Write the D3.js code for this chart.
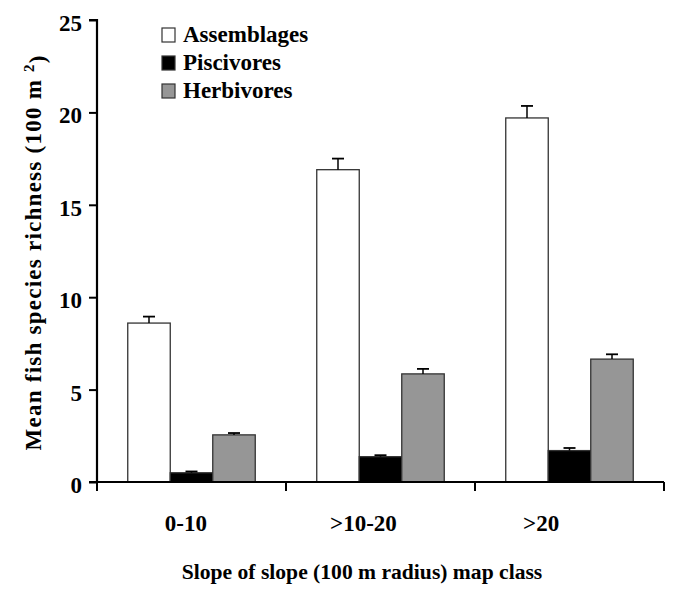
<!DOCTYPE html>
<html>
<head>
<meta charset="utf-8">
<script src="https://cdn.jsdelivr.net/npm/d3@7/dist/d3.min.js"></script>
<style>
  html, body { margin: 0; padding: 0; background: #fff; }
  svg text { font-family: "Liberation Serif", "Times New Roman", serif; font-weight: bold; fill: #000; }
</style>
</head>
<body>
<svg id="chart" width="676" height="593"></svg>
<script>
// ---- data ----
const categories = ["0-10", ">10-20", ">20"];
const seriesNames = ["Assemblages", "Piscivores", "Herbivores"];
const assemblages = [8.6, 16.9, 19.7];
const assemblagesErr = [0.35, 0.6, 0.65];
const piscivores = [0.5, 1.37, 1.7];
const piscivoresErr = [0.07, 0.08, 0.14];
const herbivores = [2.55, 5.85, 6.65];
const herbivoresErr = [0.1, 0.27, 0.26];
const yTicks = [0, 5, 10, 15, 20, 25];
const seriesColors = ["#ffffff", "#000000", "#969696"];

const values = [assemblages, piscivores, herbivores];
const errors = [assemblagesErr, piscivoresErr, herbivoresErr];

const svg = d3.select("#chart");
const margin = { left: 97, right: 12, top: 20, bottom: 111 };
const W = 676, H = 593;
const x0 = d3.scaleBand().domain(categories).range([margin.left, W - margin.right]).paddingInner(0).paddingOuter(0);
const x1 = d3.scaleBand().domain(seriesNames).range([0, x0.bandwidth()]).paddingOuter(0.7235).paddingInner(0);
const xLab = d3.scaleBand().domain(categories).range([margin.left, 630]);
const y = d3.scaleLinear().domain([0, 25]).range([H - margin.bottom, margin.top]);

// bars
const data = [];
categories.forEach((c, i) => {
  seriesNames.forEach((s, j) => {
    data.push({ c, s, j, v: values[j][i], e: errors[j][i] });
  });
});

const g = svg.append("g");
g.selectAll("rect.bar").data(data).enter().append("rect")
  .attr("class", "bar")
  .attr("x", d => x0(d.c) + x1(d.s))
  .attr("y", d => y(d.v))
  .attr("width", x1.bandwidth())
  .attr("height", d => y(0) - y(d.v))
  .attr("fill", d => seriesColors[d.j])
  .attr("stroke", "#333")
  .attr("stroke-width", 1.3);

// error bars (upper only)
const capW = 12;
const cx = d => x0(d.c) + x1(d.s) + x1.bandwidth() / 2;
const eb = g.selectAll("g.err").data(data).enter().append("g").attr("class", "err");
eb.append("line")
  .attr("x1", cx).attr("x2", cx)
  .attr("y1", d => y(d.v))
  .attr("y2", d => y(d.v + d.e))
  .attr("stroke", "#000").attr("stroke-width", 1.5);
eb.append("line")
  .attr("x1", d => cx(d) - capW / 2)
  .attr("x2", d => cx(d) + capW / 2)
  .attr("y1", d => y(d.v + d.e))
  .attr("y2", d => y(d.v + d.e))
  .attr("stroke", "#000").attr("stroke-width", 1.8);

// y axis
const yAxis = d3.axisLeft(y).tickValues(yTicks).tickSize(8).tickPadding(7).tickFormat(d3.format("d"));
const ya = svg.append("g").attr("transform", `translate(${margin.left},0)`).call(yAxis);
ya.select(".domain").attr("stroke", "#000").attr("stroke-width", 2.2).attr("d", `M-8,${y(25)}H0V${y(0)}`);
ya.selectAll(".tick line").attr("stroke", "#000").attr("stroke-width", 2);
ya.selectAll(".tick text").style("font-size", "23px").style("font-family", "Liberation Serif").style("font-weight", "bold").attr("fill", "#000").attr("dy", "0.46em");

// x axis
const xa = svg.append("g").attr("transform", `translate(0,${y(0)})`);
xa.append("line").attr("x1", margin.left - 8).attr("x2", W - margin.right).attr("y1", 0).attr("y2", 0)
  .attr("stroke", "#000").attr("stroke-width", 2.2);
const bounds = [x0(categories[0])].concat(categories.map(c => x0(c) + x0.bandwidth()));
xa.selectAll("line.xt").data(bounds).enter().append("line").attr("class", "xt")
  .attr("x1", d => d).attr("x2", d => d).attr("y1", 0).attr("y2", 9)
  .attr("stroke", "#000").attr("stroke-width", 2);
xa.selectAll("text.xl").data(categories).enter().append("text").attr("class", "xl")
  .attr("x", d => xLab(d) + xLab.bandwidth() / 2)
  .attr("y", 49)
  .attr("text-anchor", "middle")
  .style("font-size", "23px")
  .text(d => d);

// axis titles
svg.append("text")
  .attr("x", 362).attr("y", 579)
  .attr("text-anchor", "middle")
  .style("font-size", "21.6px")
  .text("Slope of slope (100 m radius) map class");

const yt = svg.append("text")
  .attr("transform", `translate(41,${(y(0) + y(25)) / 2 + 2}) rotate(-90)`)
  .attr("text-anchor", "middle")
  .attr("textLength", 395)
  .attr("lengthAdjust", "spacing")
  .style("font-size", "23px");
yt.append("tspan").text("Mean fish species richness (100 m ");
yt.append("tspan").attr("dy", "-0.45em").style("font-size", "15px").text("2");
yt.append("tspan").attr("dy", "0.45em").text(")");

// legend
const leg = svg.append("g").attr("transform", "translate(162,28)");
const li = leg.selectAll("g").data(seriesNames).enter().append("g")
  .attr("transform", (d, i) => `translate(0,${i * 28})`);
li.append("rect").attr("width", 13).attr("height", 14)
  .attr("fill", (d, i) => seriesColors[i]).attr("stroke", "#333").attr("stroke-width", 1.2);
li.append("text").attr("x", 21).attr("y", 14).style("font-size", "23px").text(d => d);
</script>
</body>
</html>
